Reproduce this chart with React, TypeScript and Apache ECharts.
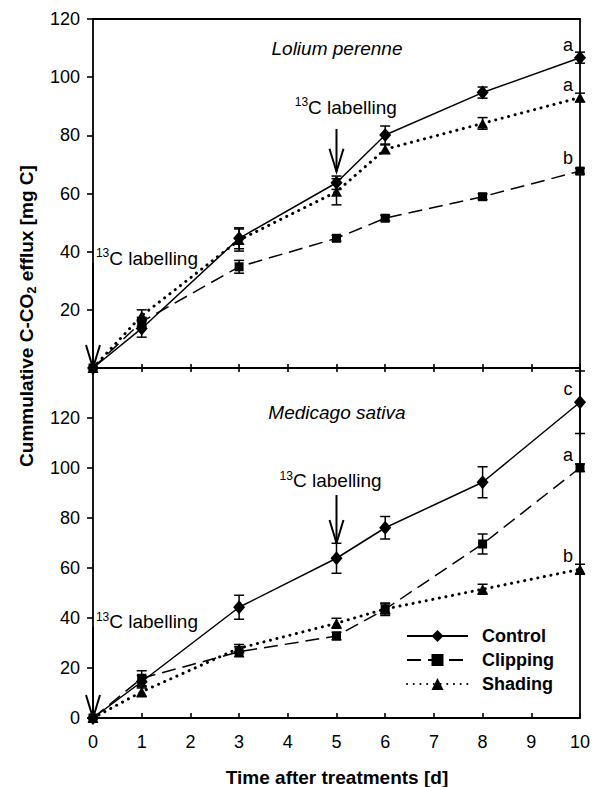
import React, { useEffect, useRef } from 'react';
import * as echarts from 'echarts';

const FONT = '"Liberation Sans", Arial, Helvetica, sans-serif';

// Time points (days after treatment)
const days = [0, 1, 3, 5, 6, 8, 10];
const seriesNames = ['Control', 'Clipping', 'Shading'];

// Lolium perenne (top panel)
const loliumControl = [0, 13.6, 44.6, 63.7, 80.1, 94.7, 106.7];
const loliumControlErr = [0, 3, 3.6, 2.3, 3.1, 1.9, 1.9];
const loliumClipping = [0, 15.9, 34.8, 44.6, 51.5, 58.9, 67.7];
const loliumClippingErr = [0, 1.5, 2.2, 1, 1, 1, 1];
const loliumShading = [0, 18, 44, 60.6, 75.2, 84.1, 93];
const loliumShadingErr = [0, 2, 3.8, 4.5, 1.5, 2, 1.5];
const loliumLetters = ['a', 'b', 'a'];

// Medicago sativa (bottom panel)
const medicagoControl = [0, 14.5, 44.3, 63.9, 76.1, 94.3, 126.3];
const medicagoControlErr = [0, 2.5, 4.8, 6, 4.5, 6.2, 12.5];
const medicagoClipping = [0, 15.9, 26.5, 32.8, 43.5, 69.6, 100.1];
const medicagoClippingErr = [0, 3, 2, 1.5, 2.5, 4, 1.5];
const medicagoShading = [0, 10.5, 27.9, 37.9, 43.6, 51.5, 59.5];
const medicagoShadingErr = [0, 2, 1.5, 2, 2, 2, 2];
const medicagoLetters = ['c', 'a', 'b'];

// Tick values
const topYTicks = [20, 40, 60, 80, 100, 120];
const bottomYTicks = [0, 20, 40, 60, 80, 100, 120];

// 13C labelling annotations (data units)
const labellingDays = [0, 5];
const labellingAlign = ['left', 'center'];
const loliumArrowTop = [36.1, 82.2];
const loliumArrowTip = [0, 67.5];
const loliumTextX = [0.06, 5.19];
const loliumTextY = [37.7, 89.6];
const medicagoArrowTop = [36.4, 89.2];
const medicagoArrowTip = [0, 70];
const medicagoTextX = [0.06, 4.88];
const medicagoTextY = [38.5, 94.9];

const axisLineStyle = { color: '#000', width: 1.8 };

const styles: any = {
  Control: { symbol: 'diamond', symbolSize: [12, 14], lineStyle: { color: '#000', width: 1.5, type: 'solid' } },
  Clipping: { symbol: 'rect', symbolSize: 9, lineStyle: { color: '#000', width: 1.5, type: [14, 7] } },
  Shading: { symbol: 'triangle', symbolSize: [11, 10], lineStyle: { color: '#000', width: 3, type: [0.1, 6.6], cap: 'round' } },
};

function lineSeries(name: string, values: number[], xi: number, yi: number, letter: string) {
  const s = styles[name];
  return {
    type: 'line',
    name,
    xAxisIndex: xi,
    yAxisIndex: yi,
    symbol: s.symbol,
    symbolSize: s.symbolSize,
    showAllSymbol: true,
    itemStyle: { color: '#000' },
    lineStyle: s.lineStyle,
    clip: false,
    z: 3,
    label: {
      show: false,
      position: 'inside',
      offset: [-12, -13],
      color: '#000',
      fontSize: 18,
      fontFamily: FONT,
    },
    data: days.map((d, i) =>
      i === days.length - 1
        ? { value: [d, values[i]], label: { show: true, formatter: letter } }
        : [d, values[i]]
    ),
  };
}

function errSeries(values: number[], errs: number[], xi: number, yi: number) {
  const data: number[][] = [];
  days.forEach((d, i) => {
    if (errs[i] > 0) data.push([d, values[i] - errs[i], values[i] + errs[i]]);
  });
  return {
    type: 'custom',
    xAxisIndex: xi,
    yAxisIndex: yi,
    clip: false,
    silent: true,
    z: 4,
    data,
    renderItem: (_params: any, api: any) => {
      const x = api.value(0);
      const lo = api.coord([x, api.value(1)]);
      const hi = api.coord([x, api.value(2)]);
      const st = { stroke: '#000', lineWidth: 1.5 };
      return {
        type: 'group',
        children: [
          { type: 'line', shape: { x1: lo[0], y1: lo[1], x2: hi[0], y2: hi[1] }, style: st },
          { type: 'line', shape: { x1: lo[0] - 5, y1: lo[1], x2: lo[0] + 5, y2: lo[1] }, style: st },
          { type: 'line', shape: { x1: hi[0] - 5, y1: hi[1], x2: hi[0] + 5, y2: hi[1] }, style: st },
        ],
      };
    },
  };
}

const labelRich = {
  sup: { fontSize: 12, lineHeight: 12, verticalAlign: 'top', fontFamily: FONT, fill: '#000', color: '#000' },
  main: { fontSize: 19, lineHeight: 22, fontFamily: FONT, fill: '#000', color: '#000' },
};

function arrowSeries(top: number[], tip: number[], tx: number[], ty: number[], xi: number, yi: number) {
  return {
    type: 'custom',
    xAxisIndex: xi,
    yAxisIndex: yi,
    clip: false,
    silent: true,
    z: 5,
    data: labellingDays.map((d, i) => [d, top[i], tip[i], tx[i], ty[i]]),
    renderItem: (params: any, api: any) => {
      const x = api.value(0);
      const a = api.coord([x, api.value(1)]);
      const b = api.coord([x, api.value(2)]);
      const t = api.coord([api.value(3), api.value(4)]);
      const st = { stroke: '#000', lineWidth: 2, fill: 'none' };
      const align = labellingAlign[params.dataIndex];
      return {
        type: 'group',
        children: [
          { type: 'line', shape: { x1: a[0], y1: a[1], x2: b[0], y2: b[1] }, style: st },
          {
            type: 'polyline',
            shape: { points: [[b[0] - 7, b[1] - 23], [b[0], b[1]], [b[0] + 7, b[1] - 23]] },
            style: st,
          },
          {
            type: 'text',
            x: t[0],
            y: t[1],
            style: {
              text: '{sup|13}{main|C labelling}',
              rich: labelRich,
              align,
              verticalAlign: 'middle',
              fill: '#000',
            },
          },
        ],
      };
    },
  };
}

function xAxisBase(gridIndex: number, position: string) {
  return {
    gridIndex,
    type: 'value',
    min: 0,
    max: 10,
    interval: 1,
    position,
    axisLine: { show: true, onZero: false, lineStyle: axisLineStyle },
    axisTick: { show: false },
    axisLabel: { show: false },
    splitLine: { show: false },
  };
}

export default function App() {
  const ref = useRef<HTMLDivElement>(null);
  useEffect(() => {
    if (!ref.current) return;
    const chart = echarts.init(ref.current, undefined, { renderer: 'svg' });
    const tickStyle = { color: '#000', width: 1.6 };
    const labelStyle = { color: '#000', fontSize: 18, fontFamily: FONT };
    const option: any = {
      animation: false,
      backgroundColor: '#fff',
      grid: [
        { left: 93, right: 21, top: 19, height: 349 },
        { left: 93, right: 21, top: 368, height: 350 },
      ],
      xAxis: [
        { ...xAxisBase(0, 'bottom'), axisTick: { show: true, inside: true, length: 4, lineStyle: tickStyle } },
        xAxisBase(0, 'top'),
        {
          ...xAxisBase(1, 'bottom'),
          axisTick: { show: true, inside: true, length: 5, lineStyle: tickStyle },
          axisLabel: { show: true, margin: 15, ...labelStyle },
        },
        { ...xAxisBase(1, 'top'), axisTick: { show: true, inside: true, length: 4, lineStyle: tickStyle } },
      ],
      yAxis: [
        {
          gridIndex: 0,
          type: 'value',
          min: 0,
          max: 120,
          interval: 20,
          position: 'left',
          axisLine: { show: true, onZero: false, lineStyle: axisLineStyle },
          axisTick: { show: true, inside: false, length: 6, lineStyle: tickStyle, customValues: topYTicks },
          axisLabel: { show: true, margin: 13, customValues: topYTicks, ...labelStyle },
          splitLine: { show: false },
        },
        {
          gridIndex: 0,
          type: 'value',
          min: 0,
          max: 120,
          position: 'right',
          axisLine: { show: true, onZero: false, lineStyle: axisLineStyle },
          axisTick: { show: false },
          axisLabel: { show: false },
          splitLine: { show: false },
        },
        {
          gridIndex: 1,
          type: 'value',
          min: 0,
          max: 140,
          interval: 20,
          position: 'left',
          axisLine: { show: true, onZero: false, lineStyle: axisLineStyle },
          axisTick: { show: true, inside: false, length: 6, lineStyle: tickStyle, customValues: bottomYTicks },
          axisLabel: { show: true, margin: 13, customValues: bottomYTicks, ...labelStyle },
          splitLine: { show: false },
        },
        {
          gridIndex: 1,
          type: 'value',
          min: 0,
          max: 140,
          position: 'right',
          axisLine: { show: true, onZero: false, lineStyle: axisLineStyle },
          axisTick: { show: false },
          axisLabel: { show: false },
          splitLine: { show: false },
        },
      ],
      legend: {
        data: seriesNames,
        orient: 'vertical',
        left: 406,
        top: 627,
        padding: 0,
        itemWidth: 61,
        itemHeight: 15,
        itemGap: 6,
        selectedMode: false,
        textStyle: {
          color: '#000',
          fontSize: 18,
          fontWeight: 'bold',
          fontFamily: FONT,
          lineHeight: 18,
          padding: [0, 0, 0, 9],
        },
      },
      graphic: [
        {
          type: 'text',
          x: 337,
          y: 48,
          style: {
            text: 'Lolium perenne',
            font: `italic 19px ${FONT}`,
            fill: '#000',
            align: 'center',
            verticalAlign: 'middle',
          },
        },
        {
          type: 'text',
          x: 337,
          y: 412,
          style: {
            text: 'Medicago sativa',
            font: `italic 19px ${FONT}`,
            fill: '#000',
            align: 'center',
            verticalAlign: 'middle',
          },
        },
        {
          type: 'text',
          x: 337,
          y: 777,
          style: {
            text: 'Time after treatments [d]',
            font: `bold 19px ${FONT}`,
            fill: '#000',
            align: 'center',
            verticalAlign: 'middle',
          },
        },
        {
          type: 'text',
          x: 26,
          y: 316,
          rotation: Math.PI / 2,
          style: {
            text: '{m|Cummulative C-CO}{s|2}{m| efflux [mg C]}',
            align: 'center',
            verticalAlign: 'middle',
            fill: '#000',
            rich: {
              m: { fontSize: 19, fontWeight: 'bold', fontFamily: FONT, lineHeight: 24, fill: '#000', color: '#000' },
              s: { fontSize: 13, fontWeight: 'bold', fontFamily: FONT, lineHeight: 13, verticalAlign: 'bottom', fill: '#000', color: '#000' },
            },
          },
        },
      ],
      series: [
        lineSeries('Control', loliumControl, 0, 0, loliumLetters[0]),
        lineSeries('Clipping', loliumClipping, 0, 0, loliumLetters[1]),
        lineSeries('Shading', loliumShading, 0, 0, loliumLetters[2]),
        errSeries(loliumControl, loliumControlErr, 0, 0),
        errSeries(loliumClipping, loliumClippingErr, 0, 0),
        errSeries(loliumShading, loliumShadingErr, 0, 0),
        arrowSeries(loliumArrowTop, loliumArrowTip, loliumTextX, loliumTextY, 0, 0),
        lineSeries('Control', medicagoControl, 2, 2, medicagoLetters[0]),
        lineSeries('Clipping', medicagoClipping, 2, 2, medicagoLetters[1]),
        lineSeries('Shading', medicagoShading, 2, 2, medicagoLetters[2]),
        errSeries(medicagoControl, medicagoControlErr, 2, 2),
        errSeries(medicagoClipping, medicagoClippingErr, 2, 2),
        errSeries(medicagoShading, medicagoShadingErr, 2, 2),
        arrowSeries(medicagoArrowTop, medicagoArrowTip, medicagoTextX, medicagoTextY, 2, 2),
      ],
    };
    chart.setOption(option);
    return () => chart.dispose();
  }, []);
  return (
    <div
      ref={ref}
      style={{ position: 'fixed', left: 0, top: 0, width: 601, height: 787, background: '#fff' }}
    />
  );
}
